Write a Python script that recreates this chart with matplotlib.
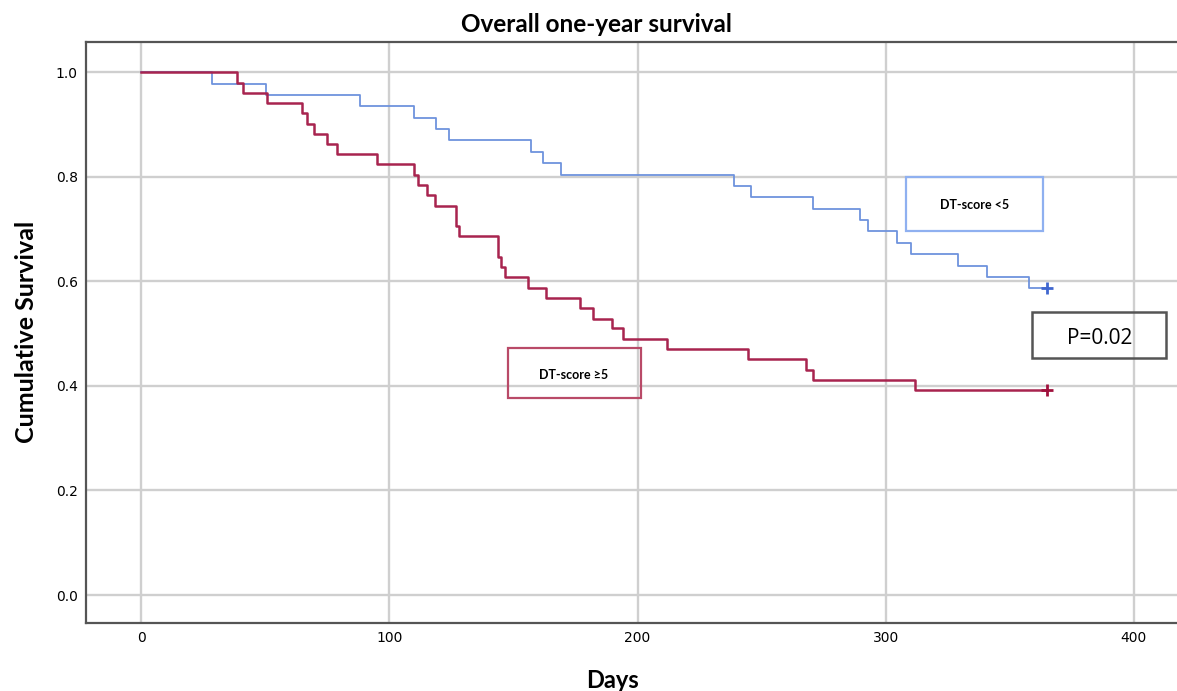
import matplotlib
matplotlib.use("Agg")
import matplotlib.pyplot as plt
from matplotlib.patches import Rectangle

# Kaplan-Meier step data
days_low = [0, 28.7, 50.2, 88, 110, 119, 124, 157, 162, 169, 238.7, 245.7,
            270.7, 289.6, 292.7, 304.5, 310, 329, 341, 357.7, 365]
surv_low = [1.0, 0.978, 0.957, 0.935, 0.913, 0.891, 0.870, 0.848, 0.826, 0.804,
            0.783, 0.761, 0.739, 0.717, 0.696, 0.674, 0.652, 0.630, 0.609, 0.587, 0.587]

days_high = [0, 38.8, 41, 50.6, 64.9, 66.7, 69.7, 74.7, 79, 95, 110, 111.7, 115,
             118.3, 127, 128, 143.8, 144.9, 146.5, 155.9, 163, 177, 182, 189.8,
             194, 211.8, 244.4, 268, 270.7, 311.7, 365]
surv_high = [1.0, 0.980, 0.961, 0.941, 0.922, 0.902, 0.882, 0.863, 0.843, 0.824,
             0.804, 0.784, 0.765, 0.745, 0.706, 0.686, 0.647, 0.627, 0.608, 0.588,
             0.569, 0.549, 0.529, 0.510, 0.490, 0.471, 0.451, 0.431, 0.412, 0.392, 0.392]

censor_day = 365
x_ticks = [0, 100, 200, 300, 400]
y_ticks = [0.0, 0.2, 0.4, 0.6, 0.8, 1.0]

label_low = "DT-score <5"
label_high = "DT-score \u22655"
p_text = "P=0.02"

blue = "#6e93dd"
red = "#a8244f"
narrow = ["Lato", "DejaVu Sans"]

W, H = 1177, 691
fig = plt.figure(figsize=(W / 100, H / 100), dpi=100)
# axes box in pixels: left 86, top 42, bottom 623, right runs past the edge
ax = fig.add_axes([86 / W, 1 - 623 / H, 1104 / W, 581 / H])

ax.step(days_low, surv_low, where="post", color=blue, lw=1.3, zorder=3)
ax.step(days_high, surv_high, where="post", color=red, lw=1.8, zorder=4)
ax.plot([censor_day], [surv_low[-1]], marker="+", ms=9, mew=2, color="#4067cf", zorder=5)
ax.plot([censor_day], [surv_high[-1]], marker="+", ms=9, mew=2, color="#a0103c", zorder=5)

ax.set_xlim(-22.2, 422.6)
ax.set_ylim(-0.0535, 1.058)
ax.set_xticks(x_ticks)
ax.set_yticks(y_ticks)
ax.set_yticklabels(["%.1f" % v for v in y_ticks])
ax.tick_params(length=0, labelsize=10, pad=6)
ax.grid(True, color="#cfcfcf", lw=1.7)
ax.set_axisbelow(True)

for s in ["left", "bottom", "top"]:
    ax.spines[s].set_color("#555555")
    ax.spines[s].set_linewidth(1.6)
ax.spines["right"].set_visible(False)

fig.text(596 / W, 1 - 25 / H, "Overall one-year survival", ha="center", va="center",
         fontsize=17.5, fontweight="bold", family=narrow)
fig.text(27 / W, 1 - 332 / H, "Cumulative Survival", ha="center", va="center",
         rotation=90, fontsize=18, fontweight="bold", family=narrow)
fig.text(612 / W, 1 - 681 / H, "Days", ha="center", va="center",
         fontsize=17, fontweight="bold", family=narrow)

# annotation boxes (axes fraction coordinates)
def px_box(x0, y0, x1, y1, ec, lw):
    fx = (x0 - 86) / 1104
    fy = (623 - y1) / 581
    r = Rectangle((fx, fy), (x1 - x0) / 1104, (y1 - y0) / 581, transform=ax.transAxes,
                  fill=False, ec=ec, lw=lw, zorder=6)
    ax.add_patch(r)

def px_text(x, y, s, **kw):
    ax.text((x - 86) / 1104, (623 - y) / 581, s, transform=ax.transAxes,
            ha="center", va="center", zorder=7, **kw)

px_box(906, 177, 1043, 231, "#8fb0f0", 1.6)
px_text(975, 205, label_low, fontsize=9, fontweight="bold", family=narrow)

px_box(508, 348, 641, 398, "#b94a68", 1.6)
px_text(574, 375, label_high, fontsize=9, fontweight="bold", family=narrow)

px_box(1032, 312, 1166, 358, "#555555", 1.8)
px_text(1100, 338, p_text, fontsize=15, family=["Open Sans", "DejaVu Sans"])

fig.savefig("out.png", dpi=100)
